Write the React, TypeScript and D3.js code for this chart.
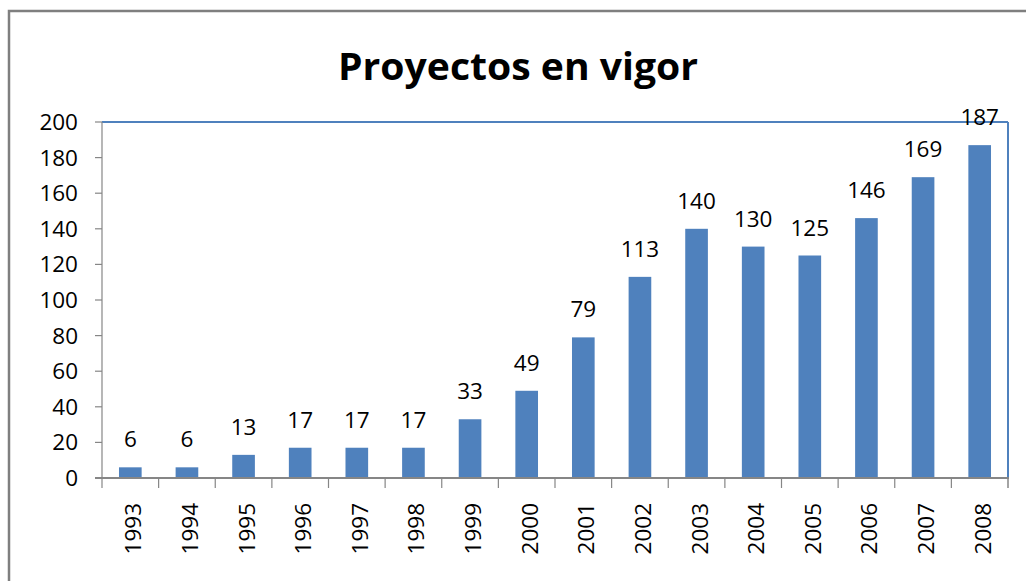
import React from "react";
import * as d3 from "d3";

const years = ["1993","1994","1995","1996","1997","1998","1999","2000","2001","2002","2003","2004","2005","2006","2007","2008"];
const values = [6, 6, 13, 17, 17, 17, 33, 49, 79, 113, 140, 130, 125, 146, 169, 187];
const yTicks = [0, 20, 40, 60, 80, 100, 120, 140, 160, 180, 200];
const title = "Proyectos en vigor";

export default function App() {
  const W = 1026, H = 581;
  const left = 102, right = 1008, top = 122, bottom = 478;
  const x = d3.scaleBand<string>().domain(years).range([left, right]).paddingInner(0.6).paddingOuter(0.3);
  const xc = d3.scaleBand<string>().domain(years).range([left, right]);
  const y = d3.scaleLinear().domain([0, 200]).range([bottom, top]);
  const font = "'Open Sans', 'Liberation Sans', sans-serif";
  const grey = "#868686";
  const blue = "#4F81BD";
  return (
    <svg width={W} height={H} style={{ position: "absolute", left: 0, top: 0, background: "#fff" }}>
      <rect x={9} y={11} width={W + 20} height={H + 20} fill="#fff" stroke="#7f7f7f" strokeWidth={2.5} />
      <text x={518} y={80} textAnchor="middle" fontFamily={font} fontWeight="bold" fontSize={38} textLength={360} lengthAdjust="spacingAndGlyphs" fill="#000">{title}</text>
      {/* plot border top/right */}
      <line x1={left} x2={right} y1={top} y2={top} stroke={blue} strokeWidth={2} />
      <line x1={right} x2={right} y1={top} y2={bottom} stroke={blue} strokeWidth={2} />
      {/* bars */}
      {values.map((v, i) => (
        <rect key={i} x={x(years[i])} y={y(v)} width={x.bandwidth()} height={bottom - y(v)} fill={blue} />
      ))}
      {/* y axis */}
      <line x1={left} x2={left} y1={top} y2={bottom} stroke={grey} strokeWidth={1.2} />
      {yTicks.map((t) => (
        <g key={t}>
          <line x1={left - 7} x2={left} y1={y(t)} y2={y(t)} stroke={grey} strokeWidth={1.2} />
          <text x={78} y={y(t) + 8} textAnchor="end" fontFamily={font} fontSize={22.5} fill="#000">{t}</text>
        </g>
      ))}
      {/* x axis */}
      <line x1={left - 7} x2={right + 1} y1={bottom} y2={bottom} stroke={grey} strokeWidth={2} />
      {years.map((yr, i) => (
        <line key={"t" + i} x1={xc(yr)!} x2={xc(yr)!} y1={bottom} y2={bottom + 10} stroke={grey} strokeWidth={1.2} />
      ))}
      <line x1={right} x2={right} y1={bottom} y2={bottom + 10} stroke={grey} strokeWidth={1.5} />
      {years.map((yr) => {
        const cx = xc(yr)! + xc.bandwidth() / 2;
        return (
          <text key={"l" + yr} transform={`translate(${cx + 11},${503}) rotate(-90)`} textAnchor="end" fontFamily={font} fontSize={22.5} fill="#000">{yr}</text>
        );
      })}
      {/* data labels */}
      {values.map((v, i) => (
        <text key={"d" + i} x={x(years[i])! + x.bandwidth() / 2} y={y(v) - 20} textAnchor="middle" fontFamily={font} fontSize={22.5} fill="#000">{v}</text>
      ))}
    </svg>
  );
}
